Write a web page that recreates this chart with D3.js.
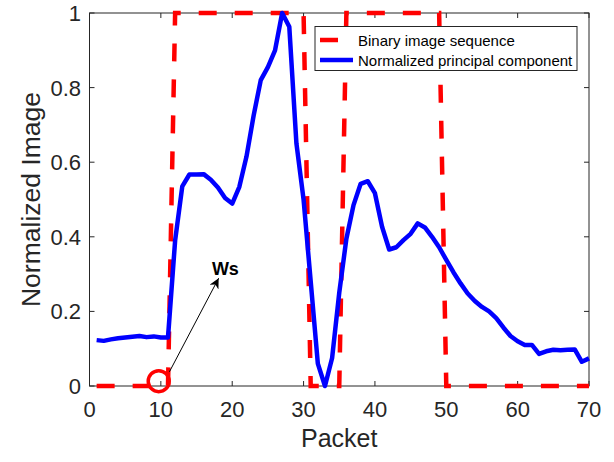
<!DOCTYPE html>
<html>
<head>
<meta charset="utf-8">
<script src="https://cdn.jsdelivr.net/npm/d3@7"></script>
<style>
  html, body { margin: 0; padding: 0; background: #fff; }
  svg { display: block; font-family: "Liberation Sans", Arial, Helvetica, sans-serif; }
</style>
</head>
<body>
<svg id="chart" width="614" height="462"></svg>
<script>
// Packet index along the x axis
const packets = [1,2,3,4,5,6,7,8,9,10,11,12,13,14,15,16,17,18,19,20,
  21,22,23,24,25,26,27,28,29,30,31,32,33,34,35,36,37,38,39,40,
  41,42,43,44,45,46,47,48,49,50,51,52,53,54,55,56,57,58,59,60,
  61,62,63,64,65,66,67,68,69,70];

// Binary image sequence (0 = no image, 1 = image present)
const binarySeq = [0,0,0,0,0,0,0,0,0,0,0,1,1,1,1,1,1,1,1,1,
  1,1,1,1,1,1,1,1,1,1,0,0,0,0,0,1,1,1,1,1,
  1,1,1,1,1,1,1,1,1,0,0,0,0,0,0,0,0,0,0,0,
  0,0,0,0,0,0,0,0,0,0];

// Normalized principal component
const principal = [0.123,0.121,0.125,0.128,0.130,0.132,0.134,0.131,0.133,0.130,
  0.130,0.390,0.535,0.567,0.567,0.568,0.553,0.532,0.504,0.489,
  0.534,0.615,0.725,0.820,0.855,0.900,1.000,0.963,0.650,0.500,
  0.280,0.060,0.000,0.075,0.250,0.395,0.485,0.542,0.549,0.517,
  0.427,0.366,0.372,0.391,0.408,0.436,0.425,0.400,0.372,0.338,
  0.305,0.275,0.248,0.228,0.212,0.200,0.182,0.157,0.134,0.120,
  0.110,0.110,0.086,0.093,0.097,0.096,0.097,0.098,0.065,0.074];

// Axis ticks
const xTicks = [0,10,20,30,40,50,60,70];
const yTicks = [0,0.2,0.4,0.6,0.8,1];
const yTickLabels = ["0","0.2","0.4","0.6","0.8","1"];

// Legend entries
const legendLabels = ["Binary image sequence","Normalized principal component"];

// "Ws" annotation: circled start point, arrow tail/head and label anchor (data units)
const markerPoint = [9.7, 0.013];
const arrowFrom = [11.2, 0.038];
const arrowTo = [18.1, 0.289];
const annotLabel = "Ws";
const annotPos = [17.15, 0.298];

const svg = d3.select("#chart");
const axisColor = "#262626";

const x = d3.scaleLinear().domain([0, 70]).range([89.5, 589]);
const y = d3.scaleLinear().domain([0, 1]).range([386, 13]);

const [x0, x1] = x.range();
const [y0, y1] = y.range();

// Arrowhead definition
svg.append("defs").append("marker")
  .attr("id", "arrowhead")
  .attr("viewBox", "0 0 10 10")
  .attr("refX", 10).attr("refY", 5)
  .attr("markerUnits", "userSpaceOnUse")
  .attr("markerWidth", 12).attr("markerHeight", 10)
  .attr("orient", "auto")
  .append("path")
  .attr("d", "M0,0 L10,5 L0,10 L3,5 Z")
  .attr("fill", "#000");

// Axes box with inward ticks on all four sides
const axisG = svg.append("g");
axisG.append("rect")
  .attr("x", x0).attr("y", y1)
  .attr("width", x1 - x0).attr("height", y0 - y1)
  .attr("fill", "none").attr("stroke", axisColor).attr("stroke-width", 1);

const tickLen = 5;
xTicks.forEach(t => {
  axisG.append("line").attr("x1", x(t)).attr("x2", x(t))
    .attr("y1", y0).attr("y2", y0 - tickLen).attr("stroke", axisColor);
  axisG.append("line").attr("x1", x(t)).attr("x2", x(t))
    .attr("y1", y1).attr("y2", y1 + tickLen).attr("stroke", axisColor);
});
yTicks.forEach(t => {
  axisG.append("line").attr("x1", x0).attr("x2", x0 + tickLen)
    .attr("y1", y(t)).attr("y2", y(t)).attr("stroke", axisColor);
  axisG.append("line").attr("x1", x1).attr("x2", x1 - tickLen)
    .attr("y1", y(t)).attr("y2", y(t)).attr("stroke", axisColor);
});

// Tick labels
svg.append("g").selectAll("text").data(xTicks).join("text")
  .attr("x", d => x(d)).attr("y", 417)
  .attr("text-anchor", "middle")
  .attr("font-size", 22).attr("fill", axisColor)
  .text(d => d);

svg.append("g").selectAll("text").data(yTicks).join("text")
  .attr("x", 81).attr("y", d => y(d) + 8)
  .attr("text-anchor", "end")
  .attr("font-size", 22).attr("fill", axisColor)
  .text((d, i) => yTickLabels[i]);

// Axis titles
svg.append("text")
  .attr("x", (x0 + x1) / 2).attr("y", 447)
  .attr("text-anchor", "middle")
  .attr("font-size", 25).attr("fill", axisColor)
  .text("Packet");

svg.append("text")
  .attr("transform", `translate(40,${(y0 + y1) / 2}) rotate(-90)`)
  .attr("text-anchor", "middle")
  .attr("font-size", 26.5).attr("fill", axisColor)
  .text("Normalized Image");

// Data lines
const lineGen = d3.line().x(d => x(d[0])).y(d => y(d[1]));

svg.append("path")
  .datum(packets.map((p, i) => [p, binarySeq[i]]))
  .attr("d", lineGen)
  .attr("fill", "none")
  .attr("stroke", "#ff0000")
  .attr("stroke-width", 4.5)
  .attr("stroke-dasharray", "18,18");

svg.append("path")
  .datum(packets.map((p, i) => [p, principal[i]]))
  .attr("d", lineGen)
  .attr("fill", "none")
  .attr("stroke", "#0000ff")
  .attr("stroke-width", 4.5)
  .attr("stroke-linejoin", "round");

// Annotation
svg.append("circle")
  .attr("cx", x(markerPoint[0])).attr("cy", y(markerPoint[1]))
  .attr("r", 10.5)
  .attr("fill", "none").attr("stroke", "#ff0000").attr("stroke-width", 3.5);

svg.append("line")
  .attr("x1", x(arrowFrom[0])).attr("y1", y(arrowFrom[1]))
  .attr("x2", x(arrowTo[0])).attr("y2", y(arrowTo[1]))
  .attr("stroke", "#000").attr("stroke-width", 1)
  .attr("marker-end", "url(#arrowhead)");

svg.append("text")
  .attr("x", x(annotPos[0])).attr("y", y(annotPos[1]))
  .attr("font-size", 18).attr("font-weight", "bold").attr("fill", "#000")
  .text(annotLabel);

// Legend
const leg = svg.append("g");
leg.append("rect")
  .attr("x", 315).attr("y", 26.5).attr("width", 262).attr("height", 44)
  .attr("fill", "#fff").attr("stroke", axisColor).attr("stroke-width", 1);

const legStyles = [
  { color: "#ff0000", dash: "18,18" },
  { color: "#0000ff", dash: null }
];
legendLabels.forEach((lbl, i) => {
  const ly = 40 + i * 20;
  leg.append("line")
    .attr("x1", 320).attr("x2", 353).attr("y1", ly).attr("y2", ly)
    .attr("stroke", legStyles[i].color).attr("stroke-width", 4.5)
    .attr("stroke-dasharray", legStyles[i].dash);
  leg.append("text")
    .attr("x", 358).attr("y", ly + 5.5)
    .attr("font-size", 15).attr("fill", "#000")
    .text(lbl);
});
</script>
</body>
</html>
